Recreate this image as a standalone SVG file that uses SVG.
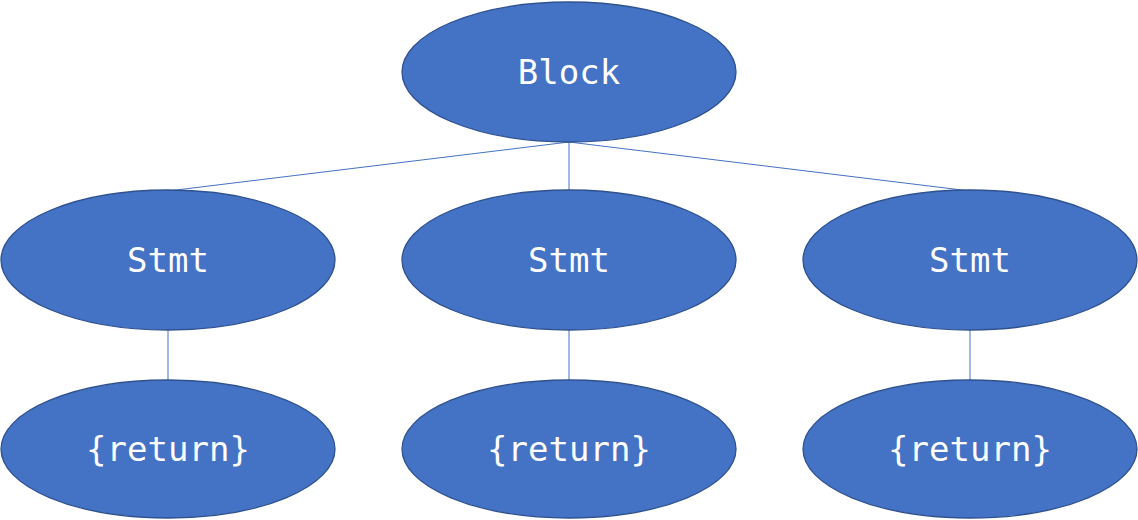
<svg xmlns="http://www.w3.org/2000/svg" width="1138" height="520" viewBox="0 0 1138 520">
<style>
.n ellipse{fill:#4472C4;stroke:#2F528F;stroke-width:1.3}
.n text{fill:#ffffff;font-family:"DejaVu Sans Mono","Liberation Mono",monospace;font-size:34px;text-anchor:middle}
.e line{stroke:#4472C4;stroke-width:1}
</style>
<rect width="1138" height="520" fill="#ffffff"/>
<g class="e" id="connectors">
<line x1="569" y1="142" x2="168" y2="191"/>
<line x1="569" y1="142" x2="569" y2="191"/>
<line x1="569" y1="142" x2="970" y2="191"/>
<line x1="168" y1="330" x2="168" y2="380"/>
<line x1="569" y1="330" x2="569" y2="380"/>
<line x1="970" y1="330" x2="970" y2="380"/>
</g>
<g class="n" id="block"><ellipse cx="569" cy="72" rx="167" ry="70"/><text x="569" y="84">Block</text></g>
<g class="n" id="stmt1"><ellipse cx="168" cy="260" rx="167" ry="70"/><text x="168" y="272">Stmt</text></g>
<g class="n" id="stmt2"><ellipse cx="569" cy="260" rx="167" ry="70"/><text x="569" y="272">Stmt</text></g>
<g class="n" id="stmt3"><ellipse cx="970" cy="260" rx="167" ry="70"/><text x="970" y="272">Stmt</text></g>
<g class="n" id="ret1"><ellipse cx="168" cy="449" rx="167" ry="69"/><text x="168" y="461">{return}</text></g>
<g class="n" id="ret2"><ellipse cx="569" cy="449" rx="167" ry="69"/><text x="569" y="461">{return}</text></g>
<g class="n" id="ret3"><ellipse cx="970" cy="449" rx="167" ry="69"/><text x="970" y="461">{return}</text></g>
</svg>
